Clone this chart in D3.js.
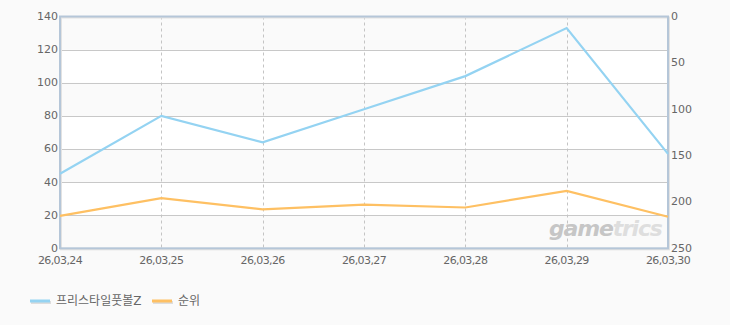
<!DOCTYPE html>
<html><head><meta charset="utf-8">
<script src="https://cdn.jsdelivr.net/npm/d3@7"></script>
<style>
html,body{margin:0;padding:0;background:#fafafa;}
svg{display:block;}
text{font-family:"DejaVu Sans","Noto Sans CJK KR",sans-serif;}
</style></head>
<body>
<svg id="c" width="730" height="325"></svg>
<script>
const dates = ["26,03,24","26,03,25","26,03,26","26,03,27","26,03,28","26,03,29","26,03,30"];
const gameValues = [45, 80, 64, 84, 104, 133, 57];
const rankValues = [215, 196, 208, 203, 206, 188, 216];
const leftTicks = [0,20,40,60,80,100,120,140];
const rightTicks = [0,50,100,150,200,250];
const seriesNames = ["프리스타일풋볼Z","순위"];
const seriesColors = ["#94d3f2","#fec063"];

const svg = d3.select("#c");
const m = {l:60, r:668, t:16.5, b:248.3};
const x = d3.scalePoint().domain(dates).range([m.l, m.r]);
const yL = d3.scaleLinear().domain([0,140]).range([m.b, m.t]);
const yR = d3.scaleLinear().domain([0,250]).range([m.t, m.b]);

// bands
const bands = d3.pairs(leftTicks);
svg.append("g").selectAll("rect").data(bands).join("rect")
  .attr("x", m.l).attr("width", m.r-m.l)
  .attr("y", d=>yL(d[1])).attr("height", d=>yL(d[0])-yL(d[1]))
  .attr("fill", (d,i)=> i%2===0 ? "#fafafa" : "#ffffff");

// horizontal grid
svg.append("g").selectAll("line").data(leftTicks.slice(1,-1)).join("line")
  .attr("x1", m.l).attr("x2", m.r)
  .attr("y1", d=>Math.round(yL(d))+0.5).attr("y2", d=>Math.round(yL(d))+0.5)
  .attr("stroke","#c8c8c8").attr("stroke-width",1);

// vertical dashed grid
svg.append("g").selectAll("line").data(dates.slice(1,-1)).join("line")
  .attr("x1", d=>Math.round(x(d))+0.5).attr("x2", d=>Math.round(x(d))+0.5)
  .attr("y1", m.t).attr("y2", m.b)
  .attr("stroke","#c4c4c4").attr("stroke-dasharray","3,3");

// watermark
const wm = svg.append("text").attr("x", 549).attr("y", 236)
  .attr("font-family","'DejaVu Sans',sans-serif").attr("font-size",22)
  .attr("font-weight","bold").attr("font-style","italic").attr("letter-spacing","-1.2");
wm.append("tspan").attr("fill","#c6c6c6").text("game");
wm.append("tspan").attr("fill","#dedede").text("trics");

// frame
svg.append("rect").attr("x", m.l+1).attr("y", m.t+1).attr("width", m.r-m.l).attr("height", m.b-m.t)
  .attr("fill","none").attr("stroke","#e2e2e2").attr("stroke-width",2);
svg.append("rect").attr("x", m.l).attr("y", m.t).attr("width", m.r-m.l).attr("height", m.b-m.t)
  .attr("fill","none").attr("stroke","#b5c6d8").attr("stroke-width",2);

// lines
const lineL = d3.line().x((d,i)=>x(dates[i])).y(d=>yL(d));
const lineR = d3.line().x((d,i)=>x(dates[i])).y(d=>yR(d));
svg.append("path").datum(rankValues).attr("d", lineR).attr("fill","none")
  .attr("stroke", seriesColors[1]).attr("stroke-width",2.2);
svg.append("path").datum(gameValues).attr("d", lineL).attr("fill","none")
  .attr("stroke", seriesColors[0]).attr("stroke-width",2.2);

// axes labels
const fs = 11, tc = "#666";
svg.append("g").selectAll("text").data(leftTicks).join("text")
  .attr("x", m.l-2).attr("y", d=>yL(d)+3.5).attr("text-anchor","end")
  .attr("font-size",fs).attr("fill",tc).text(d=>d);
svg.append("g").selectAll("text").data(rightTicks).join("text")
  .attr("x", m.r+3).attr("y", d=>yR(d)+3.5).attr("text-anchor","start")
  .attr("font-size",fs).attr("fill",tc).text(d=>d);
svg.append("g").selectAll("text").data(dates).join("text")
  .attr("x", d=>x(d)).attr("y", 264).attr("text-anchor","middle")
  .attr("font-size",fs).attr("fill",tc).attr("letter-spacing","-0.6").text(d=>d);

// legend
const lg = svg.append("g");
const lx = [30, 152];
seriesNames.forEach((n,i)=>{
  lg.append("rect").attr("x", lx[i]+1).attr("y", 301).attr("width",20).attr("height",3).attr("fill","#dddddd");
  lg.append("rect").attr("x", lx[i]).attr("y", 299.5).attr("width",20).attr("height",3).attr("fill",seriesColors[i]);
  lg.append("text").attr("x", lx[i]+26).attr("y", 305).attr("font-size",12).attr("fill",tc).text(n);
});
</script>
</body></html>
